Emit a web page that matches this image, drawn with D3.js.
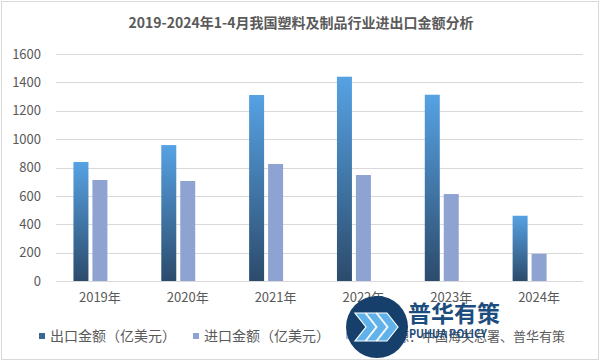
<!DOCTYPE html>
<html>
<head>
<meta charset="utf-8">
<script src="https://cdn.jsdelivr.net/npm/d3@7"></script>
<style>
  body { margin: 0; background: #fff; }
  text { font-family: "Noto Sans CJK SC", "Noto Sans", sans-serif; }
</style>
</head>
<body>
<svg id="chart"></svg>
<script>
// chart data
const years = ["2019年", "2020年", "2021年", "2022年", "2023年", "2024年"];
const exportValues = [839, 958, 1311, 1440, 1313, 460];
const importValues = [712, 705, 825, 747, 613, 192];
const seriesNames = ["出口金额（亿美元）", "进口金额（亿美元）", "数据来源：中国海关总署、普华有策"];
const yTicks = [0, 200, 400, 600, 800, 1000, 1200, 1400, 1600];
const title = "2019-2024年1-4月我国塑料及制品行业进出口金额分析";

const width = 601, height = 361;
const plot = {left: 56, right: 583, top: 54, bottom: 281};

const svg = d3.select("#chart")
    .attr("width", width)
    .attr("height", height);

// outer frame
svg.append("rect")
    .attr("x", 1.5).attr("y", 1.5)
    .attr("width", width - 4).attr("height", height - 3)
    .attr("fill", "#fff")
    .attr("stroke", "#d9d9d9");

// gradient for export bars
const defs = svg.append("defs");
const grad = defs.append("linearGradient")
    .attr("id", "expGrad")
    .attr("x1", 0).attr("y1", 0).attr("x2", 0).attr("y2", 1);
grad.append("stop").attr("offset", "0%").attr("stop-color", "#56a2e3");
grad.append("stop").attr("offset", "100%").attr("stop-color", "#2c4b6c");

svg.append("text")
    .attr("x", 301).attr("y", 28)
    .attr("text-anchor", "middle")
    .attr("font-size", 14)
    .attr("font-weight", "bold")
    .attr("fill", "#5a5a5a")
    .text(title);

// scales
let x = d3.scaleBand()
    .domain(years)
    .range([plot.left, plot.right]);

let xInner = d3.scaleBand()
    .domain([0, 1, 2])
    .range([0, x.bandwidth()])
    .paddingInner(0.21)
    .paddingOuter(0.92);

let y = d3.scaleLinear()
    .domain([0, 1600])
    .range([plot.bottom, plot.top]);

// gridlines
svg.append("g")
    .selectAll("line")
    .data(yTicks)
    .enter()
    .append("line")
        .attr("x1", plot.left).attr("x2", plot.right)
        .attr("y1", d => Math.round(y(d)) + 0.5)
        .attr("y2", d => Math.round(y(d)) + 0.5)
        .attr("stroke", "#d9d9d9");

// y axis labels
let yAxis = d3.axisLeft(y).tickValues(yTicks).tickFormat(d3.format("d")).tickSize(0).tickPadding(15);
let yG = svg.append("g")
    .attr("transform", "translate(" + plot.left + ",0)")
    .call(yAxis);
yG.select(".domain").remove();
yG.selectAll("text")
    .attr("font-family", "'Noto Sans CJK SC', sans-serif")
    .attr("font-size", 13)
    .attr("fill", "#595959");

// x axis labels
let xAxis = d3.axisBottom(x).tickSize(0).tickPadding(12);
let xG = svg.append("g")
    .attr("transform", "translate(0," + plot.bottom + ")")
    .call(xAxis);
xG.select(".domain").remove();
xG.selectAll("text")
    .attr("font-family", "'Noto Sans CJK SC', sans-serif")
    .attr("font-size", 13)
    .attr("fill", "#595959");

// bars
svg.append("g")
    .selectAll("rect")
    .data(exportValues)
    .enter()
    .append("rect")
        .attr("x", (d, i) => x(years[i]) + xInner(0))
        .attr("y", d => y(d))
        .attr("width", xInner.bandwidth())
        .attr("height", d => y(0) - y(d))
        .attr("fill", "url(#expGrad)");

svg.append("g")
    .selectAll("rect")
    .data(importValues)
    .enter()
    .append("rect")
        .attr("x", (d, i) => x(years[i]) + xInner(1))
        .attr("y", d => y(d))
        .attr("width", xInner.bandwidth())
        .attr("height", d => y(0) - y(d))
        .attr("fill", "#8fa3d3");

// legend
const legendColors = ["#3c6792", "#8fa3d3", "#b1b5dd"];
const legendX = [39, 193, 346];
const legendSize = [14, 14, 13];
let legend = svg.append("g");
seriesNames.forEach((name, i) => {
    legend.append("rect")
        .attr("x", legendX[i]).attr("y", 333)
        .attr("width", 6).attr("height", 6)
        .attr("fill", legendColors[i]);
    legend.append("text")
        .attr("x", legendX[i] + 11).attr("y", 341)
        .attr("font-size", legendSize[i])
        .attr("fill", "#595959")
        .text(name);
});

// watermark logo
let logo = svg.append("g");
logo.append("circle")
    .attr("cx", 377).attr("cy", 327).attr("r", 31)
    .attr("fill", "#163f6b");
[0, 11, 22].forEach(dx => {
    logo.append("path")
        .attr("d", "M" + (355 + dx) + ",313 L" + (365 + dx) + ",313 L" + (376 + dx) + ",327 L" + (365 + dx) + ",341 L" + (355 + dx) + ",341 L" + (366 + dx) + ",327 Z")
        .attr("fill", "#5fb3ea")
        .attr("stroke", "#ffffff")
        .attr("stroke-width", 1.2);
});
logo.append("text")
    .attr("x", 408).attr("y", 322)
    .attr("font-size", 23)
    .attr("font-weight", "bold")
    .attr("fill", "#1c4d7e")
    .text("普华有策");
logo.append("text")
    .attr("x", 409).attr("y", 338)
    .attr("font-family", "'Liberation Sans', sans-serif")
    .attr("font-size", 11)
    .attr("font-weight", "bold")
    .attr("textLength", 78)
    .attr("lengthAdjust", "spacingAndGlyphs")
    .attr("fill", "#1c4d7e")
    .text("PUHUA POLICY");
</script>
</body>
</html>
